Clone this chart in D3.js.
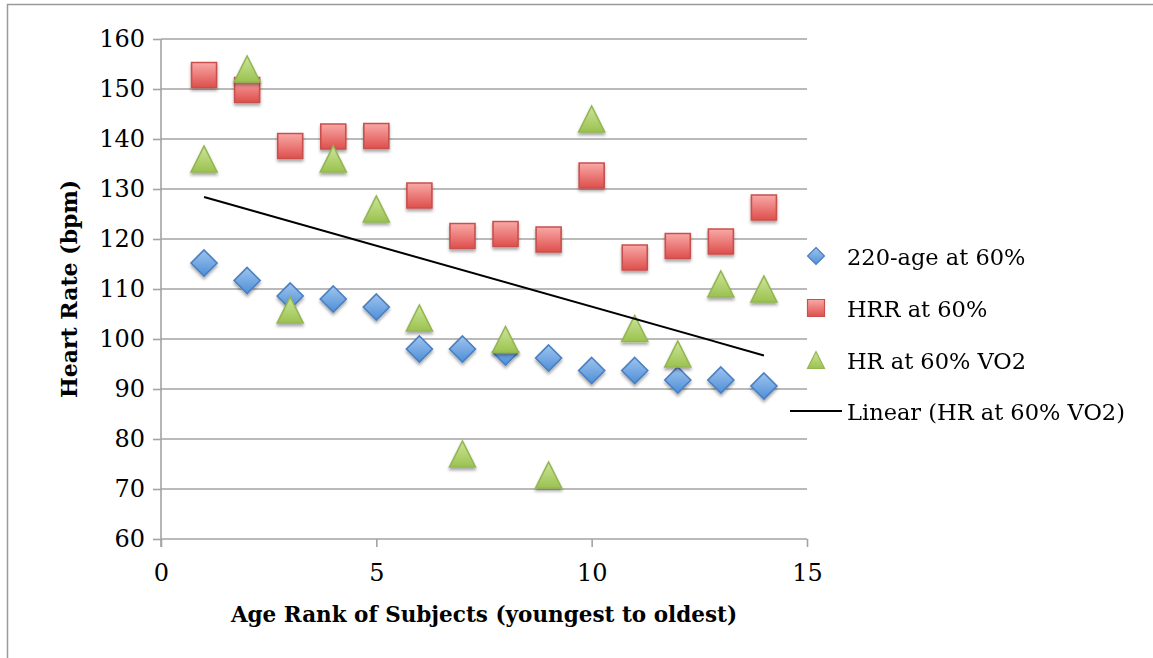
<!DOCTYPE html>
<html>
<head>
<meta charset="utf-8">
<script src="https://cdn.jsdelivr.net/npm/d3@7/dist/d3.min.js"></script>
<style>
  html, body { margin: 0; padding: 0; background: #fff; }
  svg { display: block; }
  text { font-family: "DejaVu Serif", "Liberation Serif", serif; fill: #000; }
</style>
</head>
<body>
<svg id="chart" width="1153" height="658"></svg>
<script>
// ---- data ----
const subjects = [1, 2, 3, 4, 5, 6, 7, 8, 9, 10, 11, 12, 13, 14];
const age220At60 = [115.2, 111.7, 108.6, 108, 106.4, 98, 98, 97.4, 96.2, 93.7, 93.7, 91.8, 91.8, 90.6];
const hrrAt60 = [152.8, 149.8, 138.6, 140.5, 140.6, 128.7, 120.6, 121, 119.9, 132.7, 116.3, 118.6, 119.5, 126.3];
const hrAt60VO2 = [136, 154, 105.8, 136, 126, 104.2, 77, 99.9, 72.8, 144, 102.1, 97, 111, 110];
const xTicks = [0, 5, 10, 15];
const yTicks = [60, 70, 80, 90, 100, 110, 120, 130, 140, 150, 160];
const seriesNames = ["220-age at 60%", "HRR at 60%", "HR at 60% VO2", "Linear (HR at 60% VO2)"];
const xTitle = "Age Rank of Subjects (youngest to oldest)";
const yTitle = "Heart Rate (bpm)";

const svg = d3.select("#chart");
const W = 1153, H = 658;
const plot = { left: 161, right: 807, top: 39, bottom: 539 };

const x = d3.scaleLinear().domain([0, 15]).range([plot.left, plot.right]);
const y = d3.scaleLinear().domain([60, 160]).range([plot.bottom, plot.top]);

const defs = svg.append("defs");
function grad(id, c1, c2) {
  const g = defs.append("linearGradient").attr("id", id).attr("x1", 0).attr("y1", 0).attr("x2", 0).attr("y2", 1);
  g.append("stop").attr("offset", "0%").attr("stop-color", c1);
  g.append("stop").attr("offset", "100%").attr("stop-color", c2);
}
grad("gBlue", "#9ec4ee", "#4f8fd8");
grad("gRed", "#f8a9a7", "#de4f4c");
grad("gGreen", "#cde59a", "#9bc24f");
const f = defs.append("filter").attr("id", "shadow").attr("x", "-30%").attr("y", "-30%").attr("width", "160%").attr("height", "170%");
f.append("feDropShadow").attr("dx", 0).attr("dy", 2.5).attr("stdDeviation", 1.6).attr("flood-color", "#000").attr("flood-opacity", 0.35);

// outer frame
svg.append("path")
  .attr("d", `M7.5,${H + 2} L7.5,4.5 L${W + 2},4.5`)
  .attr("fill", "none").attr("stroke", "#9a9a9a").attr("stroke-width", 1.5);

// gridlines
svg.append("g").selectAll("line").data(yTicks.filter(d => d !== 60)).join("line")
  .attr("x1", plot.left).attr("x2", plot.right)
  .attr("y1", d => y(d)).attr("y2", d => y(d))
  .attr("stroke", "#a3a3a3").attr("stroke-width", 1.6);

// y axis
const yAxis = svg.append("g").attr("transform", `translate(${plot.left},0)`)
  .call(d3.axisLeft(y).tickValues(yTicks).tickSize(8).tickPadding(8).tickFormat(d3.format("d")));
yAxis.select(".domain").attr("stroke", "#a3a3a3").attr("stroke-width", 1.6)
  .attr("d", `M0,${plot.top}V${plot.bottom + 8}`);
yAxis.selectAll(".tick line").attr("stroke", "#a3a3a3").attr("stroke-width", 1.6);
yAxis.selectAll(".tick text").attr("font-family", "DejaVu Serif").attr("font-size", 24).attr("fill", "#000");

// x axis
const xAxis = svg.append("g").attr("transform", `translate(0,${plot.bottom})`)
  .call(d3.axisBottom(x).tickValues(xTicks).tickSize(8).tickPadding(17).tickFormat(d3.format("d")));
xAxis.select(".domain").attr("stroke", "#a3a3a3").attr("stroke-width", 1.6)
  .attr("d", `M${plot.left},0H${plot.right}`);
xAxis.selectAll(".tick line").attr("stroke", "#a3a3a3").attr("stroke-width", 1.6);
xAxis.selectAll(".tick text").attr("font-family", "DejaVu Serif").attr("font-size", 24).attr("fill", "#000");

// axis titles
svg.append("text").attr("x", (plot.left + plot.right) / 2).attr("y", 622)
  .attr("text-anchor", "middle").attr("font-weight", "bold").attr("font-size", 21.5)
  .text(xTitle);
svg.append("text").attr("transform", `translate(77,${(plot.top + plot.bottom) / 2}) rotate(-90)`)
  .attr("text-anchor", "middle").attr("font-weight", "bold").attr("font-size", 22)
  .text(yTitle);

// marker shapes
function diamondPath(s) { const h = s / 2; return `M0,${-h}L${h},0L0,${h}L${-h},0Z`; }
function squarePath(s) { const h = s / 2; return `M${-h},${-h}H${h}V${h}H${-h}Z`; }
function trianglePath(s) { const h = s / 2; return `M0,${-h}L${h},${h}L${-h},${h}Z`; }

const series = [
  { name: seriesNames[0], values: age220At60, path: diamondPath, size: 26, fill: "url(#gBlue)", stroke: "#4a7fc0" },
  { name: seriesNames[1], values: hrrAt60, path: squarePath, size: 25, fill: "url(#gRed)", stroke: "#c9504d" },
  { name: seriesNames[2], values: hrAt60VO2, path: trianglePath, size: 26, fill: "url(#gGreen)", stroke: "#93b653" }
];

series.forEach(s => {
  svg.append("g").attr("filter", "url(#shadow)").selectAll("path")
    .data(subjects.map((d, i) => [d, s.values[i]])).join("path")
    .attr("transform", d => `translate(${x(d[0])},${y(d[1])})`)
    .attr("d", s.path(s.size))
    .attr("fill", s.fill).attr("stroke", s.stroke).attr("stroke-width", 1.6);
});

// linear trend line for HR at 60% VO2 (least squares)
const mx = d3.mean(subjects), my = d3.mean(hrAt60VO2);
const slope = d3.sum(subjects, (d, i) => (d - mx) * (hrAt60VO2[i] - my)) / d3.sum(subjects, d => (d - mx) ** 2);
const icpt = my - slope * mx;
const x0 = d3.min(subjects), x1 = d3.max(subjects);
svg.append("line")
  .attr("x1", x(x0)).attr("y1", y(icpt + slope * x0))
  .attr("x2", x(x1)).attr("y2", y(icpt + slope * x1))
  .attr("stroke", "#000").attr("stroke-width", 2);

// legend
const legendY = [257, 309, 361, 412];
const lg = svg.append("g");
series.forEach((s, i) => {
  lg.append("path").attr("transform", `translate(816,${legendY[i] - 1})`)
    .attr("d", s.path(17)).attr("fill", s.fill).attr("stroke", s.stroke).attr("stroke-width", 1.2);
});
lg.append("line").attr("x1", 790).attr("x2", 842).attr("y1", legendY[3] - 1).attr("y2", legendY[3] - 1)
  .attr("stroke", "#000").attr("stroke-width", 2);
seriesNames.forEach((n, i) => {
  lg.append("text").attr("x", 847).attr("y", legendY[i]).attr("dy", "0.35em")
    .attr("font-size", 22.5).text(n);
});
</script>
</body>
</html>
